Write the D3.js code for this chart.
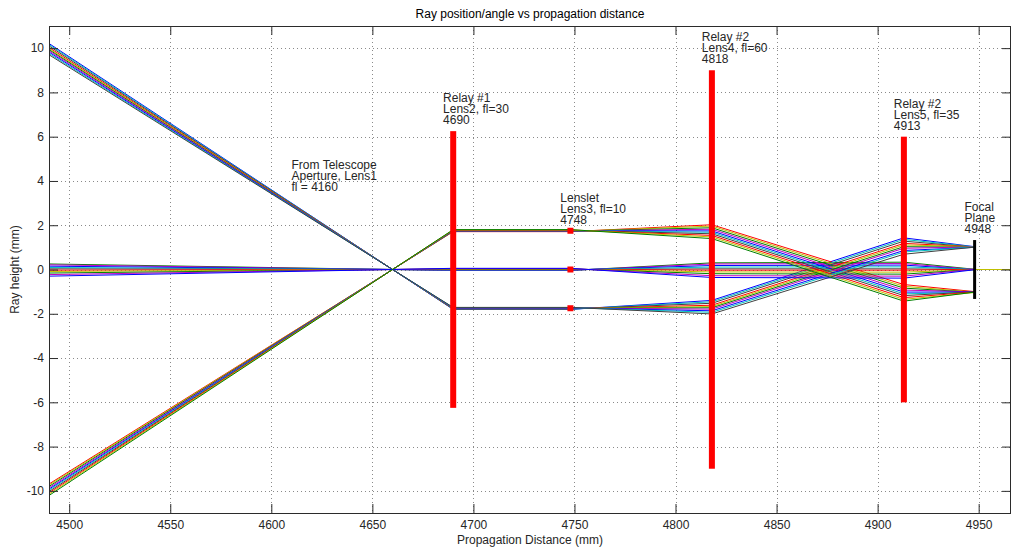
<!DOCTYPE html>
<html>
<head>
<meta charset="utf-8">
<script src="https://cdn.jsdelivr.net/npm/d3@7"></script>
<style>
  html, body { margin: 0; padding: 0; background: #fff; }
  svg { display: block; }
  text { font-family: "Liberation Sans", Arial, Helvetica, sans-serif; }
</style>
</head>
<body>
<div id="chart"></div>
<script>
// ---------------- data ----------------
const titleText = "Ray position/angle vs propagation distance";
const xLabelText = "Propagation Distance (mm)";
const yLabelText = "Ray height (mm)";

const xDomain = [4490, 4966];
const yDomain = [-11, 11];
const xTicks = [4500, 4550, 4600, 4650, 4700, 4750, 4800, 4850, 4900, 4950];
const yTicks = [-10, -8, -6, -4, -2, 0, 2, 4, 6, 8, 10];

// propagation positions where the rays are sampled (start, Lens2, Lenslet, Lens4, Lens5, focal plane)
const stopsX = [4490, 4690, 4748, 4818, 4913, 4948];

// ray heights (mm) at stopsX, rays entering at the top of the aperture
const raysUpper = [
  [10.21, -1.802, -1.802, -1.396, 1.43, 1.03],
  [10.16, -1.793, -1.793, -1.458, 1.36, 1.02],
  [10.10, -1.783, -1.783, -1.526, 1.28, 1.01],
  [10.03, -1.770, -1.770, -1.614, 1.18, 1.02],
  [9.98, -1.761, -1.761, -1.675, 1.11, 1.03],
  [9.93, -1.753, -1.753, -1.730, 1.03, 1.01],
  [9.88, -1.744, -1.744, -1.791, 0.96, 1.02],
  [9.82, -1.733, -1.733, -1.866, 0.86, 1.00],
  [9.76, -1.723, -1.723, -1.934, 0.79, 1.02],
  [9.70, -1.712, -1.712, -2.008, 0.69, 1.01]
];
// rays entering near the aperture centre
const raysCenter = [
  [0.25, -0.044, -0.044, 0.30, 0.33, 0.01],
  [0.21, -0.037, -0.037, 0.25, 0.27, 0.00],
  [0.15, -0.026, -0.026, 0.18, 0.20, -0.01],
  [0.09, -0.016, -0.016, 0.11, 0.12, 0.01],
  [0.03, -0.005, -0.005, 0.03, 0.03, 0.00],
  [-0.03, 0.005, 0.005, -0.03, -0.03, 0.01],
  [-0.09, 0.016, 0.016, -0.11, -0.12, -0.01],
  [-0.16, 0.028, 0.028, -0.19, -0.21, 0.00],
  [-0.23, 0.041, 0.041, -0.28, -0.30, 0.01],
  [-0.30, 0.053, 0.053, -0.36, -0.39, -0.01]
];
// rays entering at the bottom of the aperture
const raysLower = [
  [-9.69, 1.710, 1.710, 2.022, -0.68, -1.00],
  [-9.74, 1.719, 1.719, 1.961, -0.76, -1.02],
  [-9.80, 1.730, 1.730, 1.886, -0.84, -1.03],
  [-9.86, 1.740, 1.740, 1.818, -0.93, -1.01],
  [-9.92, 1.751, 1.751, 1.743, -1.02, -1.02],
  [-9.97, 1.760, 1.760, 1.682, -1.10, -1.03],
  [-10.03, 1.770, 1.770, 1.614, -1.18, -1.01],
  [-10.09, 1.781, 1.781, 1.539, -1.27, -1.02],
  [-10.15, 1.791, 1.791, 1.471, -1.35, -1.04],
  [-10.21, 1.802, 1.802, 1.396, -1.43, -1.02]
];
// on-axis ray continuing past the focal plane
const tailX = [4948, 4966];
const tailY = [0, 0];

// lenses (red bars): position and half height
const lensX = [4690, 4818, 4913];
const lensHalf = [6.25, 9.0, 6.0];
// lenslets (small red squares)
const lensletX = 4748;
const lensletY = [1.75, 0, -1.75];
// focal plane (black bar)
const focalX = 4948;
const focalHalf = 1.33;

// annotations
const noteX = [4610, 4685, 4743, 4813, 4908, 4943];
const noteY = [4.25, 7.25, 2.75, 10.0, 7.0, 2.33];
const noteLines = [
  ["From Telescope", "Aperture, Lens1", "fl = 4160"],
  ["Relay #1", "Lens2, fl=30", "4690"],
  ["Lenslet", "Lens3, fl=10", "4748"],
  ["Relay #2", "Lens4, fl=60", "4818"],
  ["Relay #2", "Lens5, fl=35", "4913"],
  ["Focal", "Plane", "4948"]
];

// ---------------- drawing ----------------
const W = 1012, H = 550;
const L = 49, T = 26, R = 1011, B = 513;
const palette = ["#0000ff", "#008000", "#ff0000", "#00bfbf", "#bf00bf", "#bfbf00", "#404040"];
const axisColor = "#2b2b2b";
const textColor = "#262626";

const svg = d3.select("#chart").append("svg").attr("width", W).attr("height", H);
svg.append("rect").attr("width", W).attr("height", H).attr("fill", "#fff");

const x = d3.scaleLinear().domain(xDomain).range([L, R]);
const y = d3.scaleLinear().domain(yDomain).range([B, T]);

svg.append("defs").append("clipPath").attr("id", "clip")
  .append("rect").attr("x", L).attr("y", T).attr("width", R - L).attr("height", B - T);

// grid
const grid = svg.append("g").attr("stroke", "#8a8a8a").attr("stroke-width", 1)
  .attr("stroke-dasharray", "1,3").attr("shape-rendering", "crispEdges");
grid.selectAll("line.gx").data(xTicks).join("line").attr("class", "gx")
  .attr("x1", d => Math.round(x(d)) + 0.5).attr("x2", d => Math.round(x(d)) + 0.5)
  .attr("y1", T).attr("y2", B);
grid.selectAll("line.gy").data(yTicks).join("line").attr("class", "gy")
  .attr("y1", d => Math.round(y(d)) + 0.5).attr("y2", d => Math.round(y(d)) + 0.5)
  .attr("x1", L).attr("x2", R);

// rays
const plot = svg.append("g").attr("clip-path", "url(#clip)");
const line = d3.line().x((d, i) => x(stopsX[i])).y(d => y(d));
const rayList = [];
for (let i = 0; i < raysUpper.length; i++) {
  rayList.push(raysUpper[i], raysCenter[i], raysLower[i]);
}
plot.selectAll("path.ray").data(rayList).join("path").attr("class", "ray")
  .attr("d", d => line(d))
  .attr("fill", "none")
  .attr("stroke", (d, k) => palette[k % palette.length])
  .attr("stroke-width", 1);

plot.append("path")
  .attr("d", d3.line().x(d => x(d[0])).y(d => y(d[1]))(tailX.map((v, i) => [v, tailY[i]])))
  .attr("fill", "none").attr("stroke", "#bfbf00").attr("stroke-width", 1);

// lenses
plot.selectAll("rect.lens").data(lensX).join("rect").attr("class", "lens")
  .attr("x", d => x(d) - 3).attr("width", 6)
  .attr("y", (d, i) => y(lensHalf[i])).attr("height", (d, i) => y(-lensHalf[i]) - y(lensHalf[i]))
  .attr("fill", "#ff0000");
plot.selectAll("rect.lenslet").data(lensletY).join("rect").attr("class", "lenslet")
  .attr("x", x(lensletX) - 3).attr("width", 6)
  .attr("y", d => y(d) - 3).attr("height", 6)
  .attr("fill", "#ff0000");
plot.append("rect")
  .attr("x", x(focalX) - 1.5).attr("width", 3)
  .attr("y", y(focalHalf)).attr("height", y(-focalHalf) - y(focalHalf))
  .attr("fill", "#000");

// axes (inward ticks on all sides)
function styleAxis(g) {
  g.select(".domain").remove();
  g.selectAll(".tick line").attr("stroke", axisColor);
  g.selectAll(".tick text").attr("fill", textColor).attr("font-size", 12)
    .attr("font-family", '"Liberation Sans", Arial, sans-serif');
}
svg.append("g").attr("transform", `translate(0,${B})`)
  .call(d3.axisBottom(x).tickValues(xTicks).tickFormat(d3.format("d")).tickSizeInner(-9).tickSizeOuter(0).tickPadding(7))
  .call(styleAxis);
svg.append("g").attr("transform", `translate(0,${T})`)
  .call(d3.axisTop(x).tickValues(xTicks).tickFormat("").tickSizeInner(-9).tickSizeOuter(0))
  .call(styleAxis);
svg.append("g").attr("transform", `translate(${L},0)`)
  .call(d3.axisLeft(y).tickValues(yTicks).tickFormat(d => String(d)).tickSizeInner(-9).tickSizeOuter(0).tickPadding(5))
  .call(styleAxis);
svg.append("g").attr("transform", `translate(${R},0)`)
  .call(d3.axisRight(y).tickValues(yTicks).tickFormat("").tickSizeInner(-9).tickSizeOuter(0))
  .call(styleAxis);

// box
svg.append("rect").attr("x", L + 0.5).attr("y", T + 0.5).attr("width", R - L - 1).attr("height", B - T)
  .attr("fill", "none").attr("stroke", axisColor).attr("stroke-width", 1).attr("shape-rendering", "crispEdges");

// annotations
const notes = svg.append("g").attr("fill", textColor).attr("font-size", 12);
noteLines.forEach((lines, n) => {
  const t = notes.append("text").attr("x", x(noteX[n])).attr("y", y(noteY[n]) + 4.3);
  lines.forEach((s, j) => {
    t.append("tspan").attr("x", x(noteX[n])).attr("y", y(noteY[n]) + 4.3 + (j - 1) * 11).text(s);
  });
});

// titles
svg.append("text").attr("x", (L + R) / 2).attr("y", 18).attr("text-anchor", "middle")
  .attr("font-size", 12).attr("fill", "#000").text(titleText);
svg.append("text").attr("x", (L + R) / 2).attr("y", 544).attr("text-anchor", "middle")
  .attr("font-size", 12).attr("fill", textColor).text(xLabelText);
svg.append("text").attr("transform", `translate(19,${(T + B) / 2}) rotate(-90)`).attr("text-anchor", "middle")
  .attr("font-size", 12).attr("fill", textColor).text(yLabelText);
</script>
</body>
</html>
